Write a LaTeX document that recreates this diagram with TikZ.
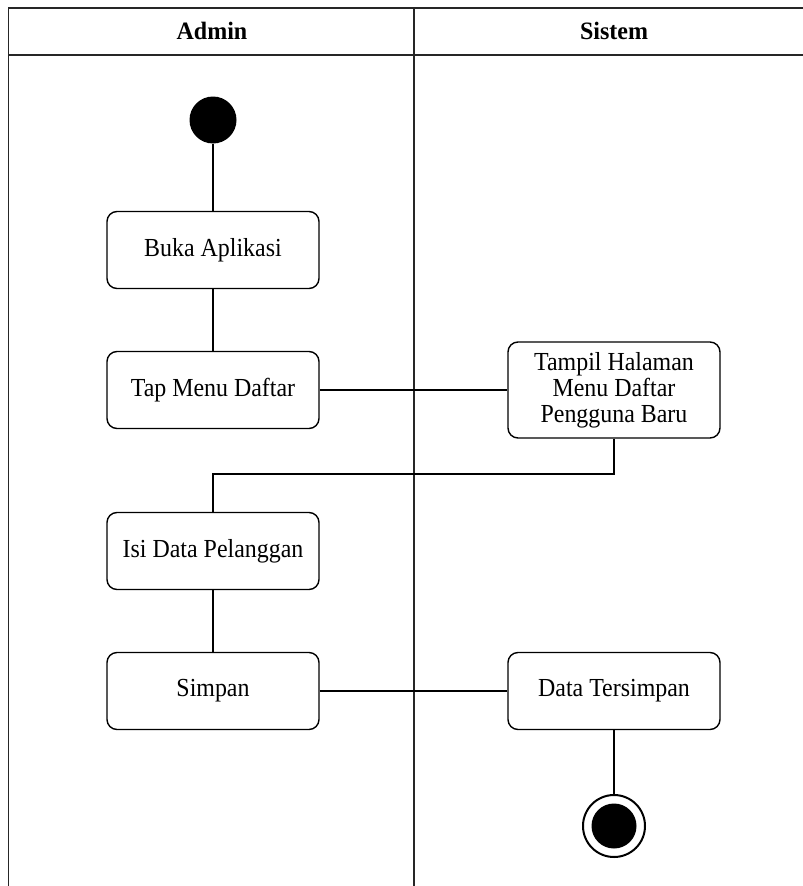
\documentclass[tikz,border=0pt]{standalone}
\usepackage{fontspec}
\setmainfont{Liberation Serif}
\newfontfamily\actfont[FakeStretch=0.92]{Liberation Serif}
\newfontfamily\lanefont[FakeStretch=0.96]{Liberation Serif}
\begin{document}
\begin{tikzpicture}[x=1pt,y=-1pt,
  lane/.style={line width=1.8pt,draw=black!85},
  flow/.style={line width=1.4pt,draw=black},
  act/.style={draw,line width=1.4pt,rounded corners=10pt,minimum width=212pt,minimum height=77pt,
    align=center,inner sep=2pt,font=\actfont\fontsize{26}{26}\selectfont},
  hdr/.style={font=\lanefont\fontsize{25}{26}\selectfont\bfseries},
  startnode/.style={circle,fill=black,minimum size=47pt,inner sep=0pt},
  endring/.style={circle,draw,line width=2pt,fill=white,minimum size=62pt,inner sep=0pt},
  endcore/.style={circle,fill=black,minimum size=45pt,inner sep=0pt}]
\useasboundingbox (0,0) rectangle (803,886);
\fill[white] (0,0) rectangle (803,886);

% swimlane frame
\draw[lane] (8.5,886) -- (8.5,8) -- (803,8);
\draw[lane] (8.5,55) -- (803,55);
\draw[lane] (414,8) -- (414,886);
\node[hdr] (hadmin) at (212,31) {Admin};
\node[hdr] (hsistem) at (614,31) {Sistem};

% activities
\node[startnode] (start) at (213,120) {};
\node[act] (buka) at (213,250) {Buka Aplikasi};
\node[act] (tap) at (213,390) {Tap Menu Daftar};
\node[act,minimum height=96pt] (tampil) at (614,390) {Tampil Halaman\\Menu Daftar\\Pengguna Baru};
\node[act] (isi) at (213,551) {Isi Data Pelanggan};
\node[act] (simpan) at (213,691) {Simpan};
\node[act] (data) at (614,691) {Data Tersimpan};
\node[endring] (endr) at (614,826) {};
\node[endcore] (endc) at (614,826) {};
\coordinate (bend) at (614,474);

% flows
\draw[flow] (start) -- (buka);
\draw[flow] (buka) -- (tap);
\draw[flow] (tap) -- (tampil);
\draw[flow] (tampil) -- (bend) -| (isi);
\draw[flow] (isi) -- (simpan);
\draw[flow] (simpan) -- (data);
\draw[flow] (data) -- (endr);
\end{tikzpicture}
\end{document}
